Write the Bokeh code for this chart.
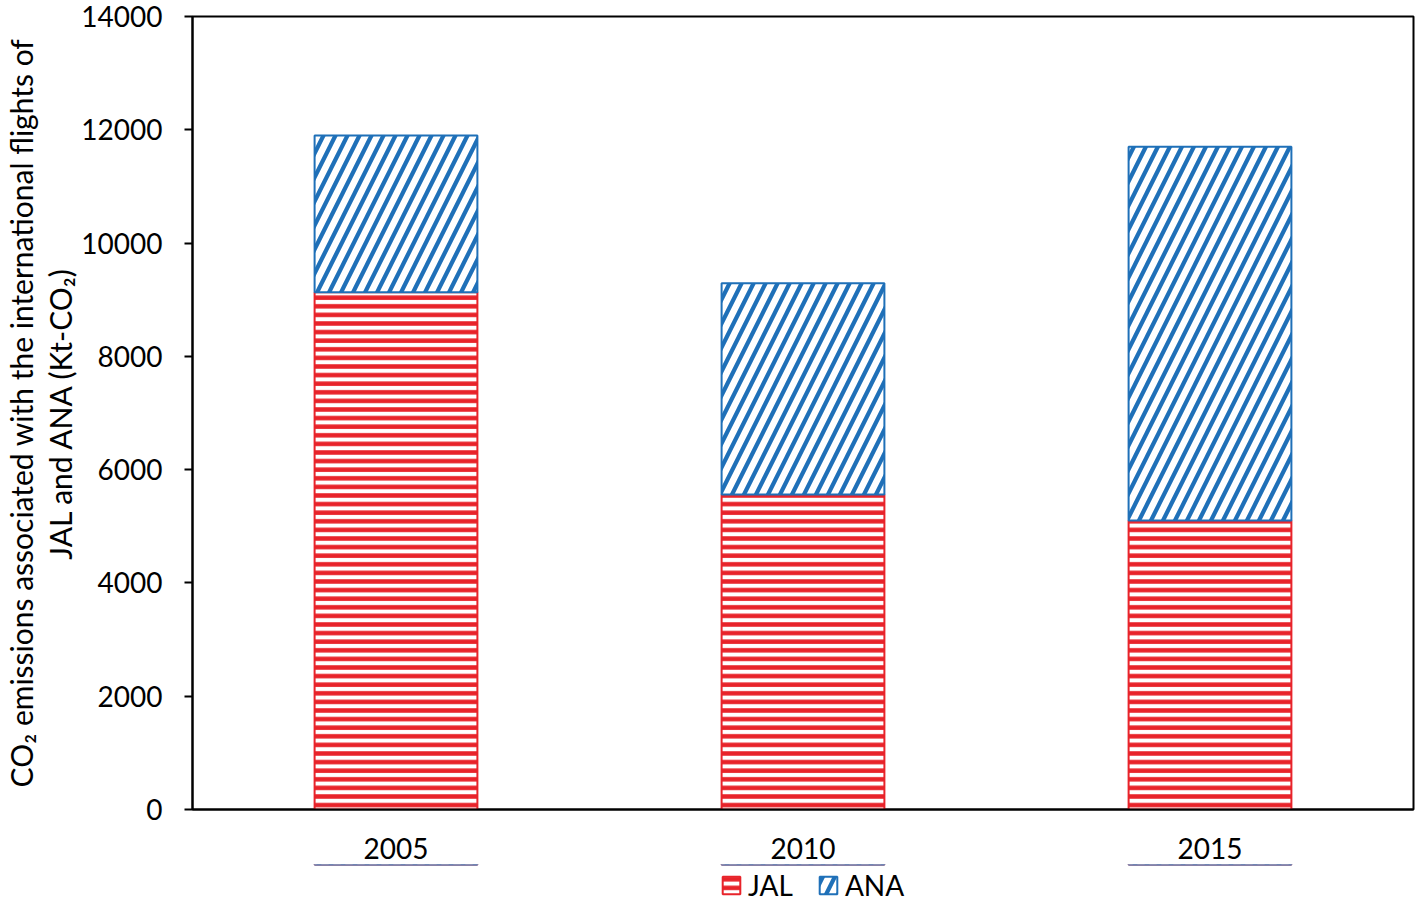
from bokeh.plotting import figure
from bokeh.models import Legend, LegendItem, Title, Range1d, FixedTicker
from bokeh.layouts import column
from bokeh.embed import file_html
from bokeh.resources import INLINE

years = ["2005", "2010", "2015"]
jal = [9130, 5560, 5100]
ana = [2770, 3730, 6600]
y_ticks = [0, 2000, 4000, 6000, 8000, 10000, 12000, 14000]
series_names = ["JAL", "ANA"]

FONT = "Lato"
RED = "#e8232a"
BLUE = "#1f70b8"

jal_style = dict(fill_color="white", line_color=RED, line_width=2,
                 hatch_pattern="-", hatch_color=RED, hatch_weight=4.5, hatch_scale=8.6)
ana_style = dict(fill_color="white", line_color=BLUE, line_width=2,
                 hatch_pattern="/", hatch_color=BLUE, hatch_weight=4.2, hatch_scale=24)

p = figure(x_range=years, y_range=Range1d(0, 14000),
           width=1415, height=864,
           output_backend="svg", toolbar_location=None)
p.min_border_left = 0
p.min_border_right = 2
p.min_border_top = 16
p.min_border_bottom = 55

ana_bottom = jal
ana_top = [a + b for a, b in zip(jal, ana)]

p.vbar(x=years, bottom=0, top=jal, width=0.4, **jal_style)
p.vbar(x=years, bottom=ana_bottom, top=ana_top, width=0.4, **ana_style)

p.xgrid.visible = False
p.ygrid.visible = False
p.outline_line_color = "black"
p.outline_line_width = 2
p.outline_line_alpha = 1

p.yaxis.ticker = FixedTicker(ticks=y_ticks)
p.yaxis.minor_tick_line_color = None
p.yaxis.major_tick_out = 8
p.yaxis.major_tick_in = 0
p.yaxis.major_tick_line_width = 2
p.yaxis.axis_line_width = 2
p.yaxis.major_label_text_font = FONT
p.yaxis.major_label_text_font_size = "28px"
p.yaxis.major_label_text_color = "black"
p.yaxis.major_label_standoff = 22

p.xaxis.major_tick_line_color = None
p.xaxis.minor_tick_line_color = None
p.xaxis.axis_line_width = 2
p.xaxis.major_label_text_font = FONT
p.xaxis.major_label_text_font_size = "28px"
p.xaxis.major_label_text_color = "black"
p.xaxis.major_label_standoff = 22

t2 = Title(text="JAL and ANA (Kt-CO₂)", align="center",
           text_font=FONT, text_font_size="30px", text_font_style="normal",
           text_color="black", standoff=2)
t1 = Title(text="CO₂ emissions associated with the international flights of", align="center",
           text_font=FONT, text_font_size="30px", text_font_style="normal",
           text_color="black", standoff=0)
p.add_layout(t2, "left")
p.add_layout(t1, "left")

# legend strip below the chart (its bars lie far outside the strip's visible range)
lg = figure(width=1415, height=40, x_range=years, y_range=Range1d(-60000, -59000),
            output_backend="svg", toolbar_location=None)
lg.min_border_left = 0
lg.min_border_right = 0
lg.min_border_top = 0
lg.min_border_bottom = 0
lg.axis.visible = False
lg.grid.visible = False
lg.outline_line_color = None
lr_jal = lg.vbar(x=years, bottom=0, top=jal, width=0.4, **jal_style)
lr_ana = lg.vbar(x=years, bottom=ana_bottom, top=ana_top, width=0.4, **ana_style)

legend = Legend(items=[LegendItem(label=series_names[0], renderers=[lr_jal]),
                       LegendItem(label=series_names[1], renderers=[lr_ana])],
                orientation="horizontal", location=(528, 2),
                label_text_font=FONT, label_text_font_size="28px",
                label_text_color="black",
                glyph_width=22, glyph_height=22, spacing=24,
                border_line_color=None, background_fill_alpha=0,
                padding=0, margin=0, label_standoff=6)
lg.add_layout(legend, "center")

layout = column(p, lg, spacing=0)
open("out.html", "w").write(file_html(layout, INLINE))
